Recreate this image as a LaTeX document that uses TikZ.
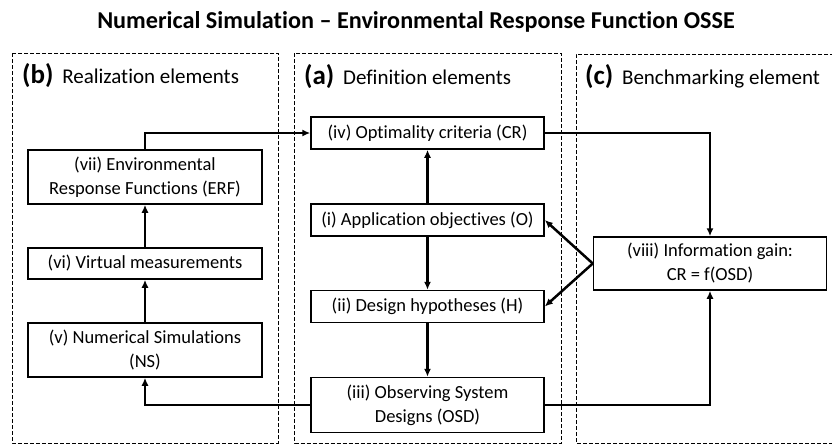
\documentclass[tikz,border=0pt]{standalone}
\usepackage{fontspec}
\setmainfont{Carlito}[Ligatures=NoCommon]
\usetikzlibrary{arrows.meta}
\tikzset{
  panel/.style={draw, line width=0.9pt, dash pattern=on 4pt off 2pt},
  elbox/.style={draw, line width=1.5pt, minimum width=234pt, align=center, inner sep=0pt,
    font=\fontsize{18.5}{24}\selectfont},
  conn/.style={line width=2.5pt, -{Latex[length=8pt,width=7pt]}},
  plabel/.style={anchor=west, inner sep=0pt, font=\fontsize{21}{26}\selectfont},
}
\newcommand{\plet}[1]{{\fontsize{27}{30}\selectfont\bfseries #1}\hspace{4pt}}
\begin{document}
\begin{tikzpicture}[x=1pt,y=-1pt]
\useasboundingbox (0,0) rectangle (832,445);
% title
\node[font=\fontsize{24.2}{28}\selectfont\bfseries] (title) at (416,22) {Numerical Simulation – Environmental Response Function OSSE};
% panels
\draw[panel] (12,53) rectangle (278,443);
\draw[panel] (294.5,53) rectangle (561,443);
\draw[panel] (840,54) -- (576,54) -- (576,443) -- (840,443);
% panel labels
\node[plabel] (lb) at (22,76) {\plet{(b)} Realization elements};
\node[plabel] (la) at (304,77) {\plet{(a)} Definition elements};
\node[plabel] (lc) at (585,77) {\plet{(c)} Benchmarking element};
% boxes left
\node[elbox, minimum height=54pt] (erf) at (145,177) {(vii) Environmental\\Response Functions (ERF)};
\node[elbox, minimum height=31pt] (vm) at (145,263.5) {(vi) Virtual measurements};
\node[elbox, minimum height=54pt] (ns) at (145,350) {(v) Numerical Simulations\\(NS)};
% boxes middle
\node[elbox, minimum height=32pt, minimum width=233pt] (cr) at (427.5,133) {(iv) Optimality criteria (CR)};
\node[elbox, minimum height=32pt, minimum width=233pt] (obj) at (427.5,220) {(i) Application objectives (O)};
\node[elbox, minimum height=32pt, minimum width=233pt] (hyp) at (427.5,306.5) {(ii) Design hypotheses (H)};
\node[elbox, minimum height=55pt, minimum width=233pt] (osd) at (427.5,405) {(iii) Observing System\\Designs (OSD)};
% box right
\node[elbox, minimum height=53pt, minimum width=233pt] (ig) at (710,263.5) {(viii) Information gain:\\CR = f(OSD)};
% connectors
\draw[conn] (erf.north) |- (cr.west);
\draw[conn] (vm) -- (erf);
\draw[conn] (ns) -- (vm);
\draw[conn] (osd.west) -| (ns.south);
\draw[conn] (obj) -- (cr);
\draw[conn] (obj) -- (hyp);
\draw[conn] (hyp) -- (osd);
\draw[conn] (cr.east) -| (ig.north);
\draw[conn] (osd.east) -| (ig.south);
\draw[conn] (ig.west) -- (obj.east);
\draw[conn] (ig.west) -- (hyp.east);
\end{tikzpicture}
\end{document}
